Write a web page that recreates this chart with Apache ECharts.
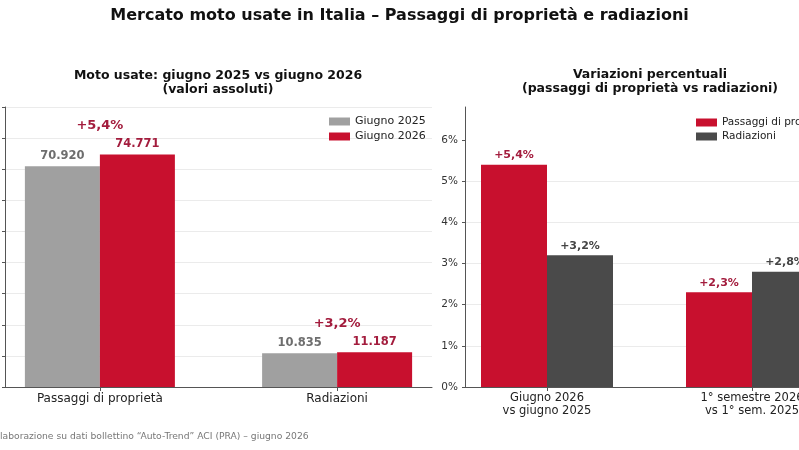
<!DOCTYPE html>
<html>
<head>
<meta charset="utf-8">
<script src="https://cdn.jsdelivr.net/npm/echarts@6/dist/echarts.min.js"></script>
<style>
  html, body { margin: 0; padding: 0; background: #fff; }
  #chart { width: 799px; height: 450px; }
</style>
</head>
<body>
<div id="chart"></div>
<script>
// dati
var catsLeft = ['Passaggi di proprietà', 'Radiazioni'];
var giugno2025 = [70920, 10835];
var giugno2026 = [74771, 11187];
var varLeft = [5.4, 3.2];

var catsRight = ['Giugno 2026\nvs giugno 2025', '1° semestre 2026\nvs 1° sem. 2025'];
var passaggiVar = [5.4, 2.3];
var radiazioniVar = [3.2, 2.8];
var rightTicks = [0, 1, 2, 3, 4, 5, 6];

var FONT = 'DejaVu Sans';
var RED = '#c8102e', GREY = '#a0a0a0', DARK = '#4a4a4a';
var RED_TXT = '#a31c3d', GREY_TXT = '#6e6e6e', DARK_TXT = '#444444';

function migliaia(v) {
	return String(v).replace(/\B(?=(\d{3})+(?!\d))/g, '.');
}
function perc(v) {
	return '+' + v.toFixed(1).replace('.', ',') + '%';
}
function pairs(arr) {
	return arr.map(function(v, i) { return [i, v]; });
}

var chart = echarts.init(document.getElementById('chart'));

var axisLineStyle = { color: '#555', width: 1 };

var option = {
	animation: false,
	textStyle: { fontFamily: FONT },
	title: {
		text: 'Mercato moto usate in Italia – Passaggi di proprietà e radiazioni',
		left: 'center',
		top: 3,
		textStyle: { fontFamily: FONT, fontSize: 16, fontWeight: 'bold', color: '#111' }
	},
	graphic: [{
		type: 'text', x: 218, y: 69,
		style: {
			text: 'Moto usate: giugno 2025 vs giugno 2026\n(valori assoluti)',
			textAlign: 'center', font: 'bold 12.5px "DejaVu Sans"', lineHeight: 14, fill: '#111'
		}
	}, {
		type: 'text', x: 650, y: 68,
		style: {
			text: 'Variazioni percentuali\n(passaggi di proprietà vs radiazioni)',
			textAlign: 'center', font: 'bold 12.5px "DejaVu Sans"', lineHeight: 14, fill: '#111'
		}
	}, {
		type: 'text', x: -5.8, y: 432,
		style: {
			text: 'Elaborazione su dati bollettino “Auto-Trend” ACI (PRA) – giugno 2026',
			font: '9.2px "DejaVu Sans"', fill: '#777'
		}
	}],
	legend: [{
		orient: 'vertical', left: 324, top: 111,
		itemWidth: 21, itemHeight: 8, itemGap: 4,
		icon: 'rect',
		textStyle: { fontFamily: FONT, fontSize: 11, color: '#222' },
		data: ['Giugno 2025', 'Giugno 2026']
	}, {
		orient: 'vertical', left: 691, top: 112,
		itemWidth: 21, itemHeight: 8, itemGap: 3,
		icon: 'rect',
		textStyle: { fontFamily: FONT, fontSize: 10.5, color: '#222' },
		data: ['Passaggi di proprietà', 'Radiazioni']
	}],
	grid: [
		{ left: 5, top: 107, width: 427, bottom: 63, containLabel: false, outerBoundsMode: 'none' },
		{ left: 465, top: 107, width: 369, bottom: 63, containLabel: false, outerBoundsMode: 'none' }
	],
	xAxis: [{
		type: 'value', gridIndex: 0, min: -0.4, max: 1.4,
		axisLine: { show: true, onZero: false, lineStyle: axisLineStyle },
		axisTick: { show: true, length: 4, customValues: [0, 1], lineStyle: axisLineStyle },
		axisLabel: {
			customValues: [0, 1], margin: 6, fontSize: 12, color: '#222',
			formatter: function(v) { return catsLeft[Math.round(v)]; }
		},
		splitLine: { show: false }
	}, {
		type: 'value', gridIndex: 1, min: -0.4, max: 1.4,
		axisLine: { show: true, onZero: false, lineStyle: axisLineStyle },
		axisTick: { show: true, length: 4, customValues: [0, 1], lineStyle: axisLineStyle },
		axisLabel: {
			customValues: [0, 1], margin: 5, fontSize: 11.5, lineHeight: 13, color: '#222',
			formatter: function(v) { return catsRight[Math.round(v)]; }
		},
		splitLine: { show: false }
	}],
	yAxis: [{
		type: 'value', gridIndex: 0, min: 0, max: 90000, interval: 10000,
		axisLine: { show: true, onZero: false, lineStyle: axisLineStyle },
		axisTick: { show: true, length: 3, lineStyle: axisLineStyle },
		axisLabel: { fontSize: 10.5, color: '#333', formatter: migliaia },
		splitLine: { show: true, lineStyle: { color: '#ebebeb', width: 1 } }
	}, {
		type: 'value', gridIndex: 1, min: 0, max: 6.8,
		axisLine: { show: true, onZero: false, lineStyle: axisLineStyle },
		axisTick: { show: true, length: 3, customValues: rightTicks, lineStyle: axisLineStyle },
		axisLabel: {
			customValues: rightTicks, fontSize: 10.5, color: '#333', margin: 7,
			formatter: function(v) { return Math.round(v) + '%'; }
		},
		splitLine: { show: true, showMaxLine: false, lineStyle: { color: '#ebebeb', width: 1 } }
	}],
	series: [{
		name: 'Giugno 2025', type: 'bar', xAxisIndex: 0, yAxisIndex: 0,
		barWidth: 75, barGap: '0%',
		itemStyle: { color: GREY },
		label: {
			show: true, position: 'top', distance: 4,
			fontSize: 11.5, fontWeight: 'bold', color: GREY_TXT,
			formatter: function(p) { return migliaia(p.value[1]); }
		},
		data: pairs(giugno2025)
	}, {
		name: 'Giugno 2026', type: 'bar', xAxisIndex: 0, yAxisIndex: 0,
		barWidth: 75, barGap: '0%',
		itemStyle: { color: RED },
		label: {
			show: true, position: 'top', distance: 4,
			fontSize: 11.5, fontWeight: 'bold', color: RED_TXT,
			formatter: function(p) { return migliaia(p.value[1]); }
		},
		data: pairs(giugno2026)
	}, {
		// variazione sopra la coppia di barre
		type: 'scatter', xAxisIndex: 0, yAxisIndex: 0,
		symbol: 'rect', symbolSize: 0,
		label: {
			show: true, position: 'top', distance: 22, opacity: 1,
			fontSize: 13, fontWeight: 'bold', color: RED_TXT,
			formatter: function(p) { return perc(varLeft[p.dataIndex]); }
		},
		emphasis: { disabled: true },
		data: giugno2026.map(function(v, i) { return [i, Math.max(v, giugno2025[i])]; }),
		z: 5
	}, {
		name: 'Passaggi di proprietà', type: 'bar', xAxisIndex: 1, yAxisIndex: 1,
		barWidth: 66, barGap: '0%',
		itemStyle: { color: RED },
		label: {
			show: true, position: 'top', distance: 4,
			fontSize: 11, fontWeight: 'bold', color: RED_TXT,
			formatter: function(p) { return perc(p.value[1]); }
		},
		data: pairs(passaggiVar)
	}, {
		name: 'Radiazioni', type: 'bar', xAxisIndex: 1, yAxisIndex: 1,
		barWidth: 66, barGap: '0%',
		itemStyle: { color: DARK },
		label: {
			show: true, position: 'top', distance: 4,
			fontSize: 11, fontWeight: 'bold', color: DARK_TXT,
			formatter: function(p) { return perc(p.value[1]); }
		},
		data: pairs(radiazioniVar)
	}]
};

chart.setOption(option);
</script>
</body>
</html>
